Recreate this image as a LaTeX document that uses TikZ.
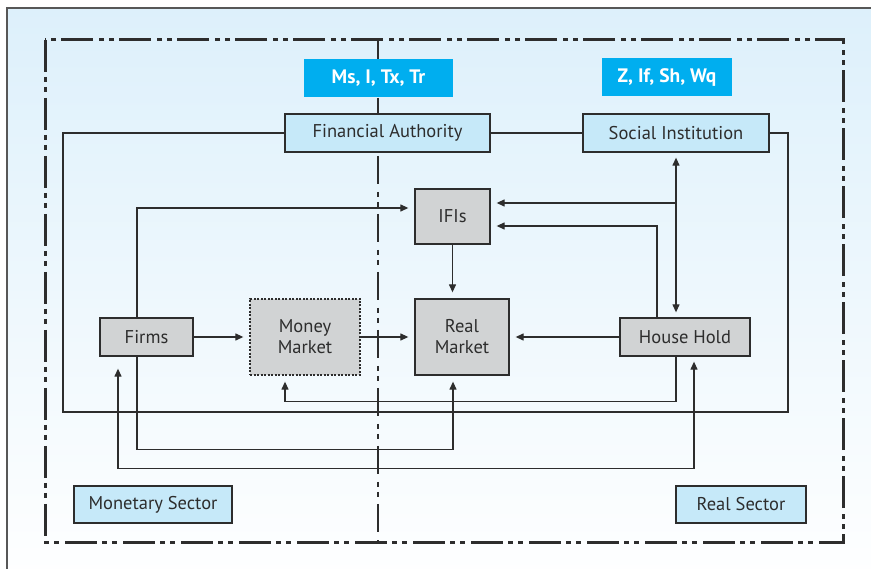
\documentclass[tikz,border=0pt]{standalone}
\usepackage{fontspec}
\setmainfont{PT Sans}
\usetikzlibrary{arrows.meta}
\usetikzlibrary{positioning}
\usetikzlibrary{calc}

\definecolor{PanelBlue}{RGB}{221,240,251}
\definecolor{BoxBlue}{RGB}{198,233,249}
\definecolor{HeadBlue}{RGB}{0,174,239}
\definecolor{BoxGray}{RGB}{209,211,212}
\definecolor{LineGray}{RGB}{45,45,45}

\tikzset{
    unit/.style = {draw = LineGray, line width = 1.3pt, fill = BoxGray, inner sep = 0pt,
                   text = LineGray, align = center, font = \fontsize{18.5}{21}\selectfont},
    authority/.style = {unit, fill = BoxBlue},
    header/.style = {fill = HeadBlue, text = white, inner sep = 0pt,
                     font = \fontsize{19.5}{21}\selectfont\bfseries},
    link/.style = {draw = LineGray, line width = 1.2pt},
    flow/.style = {link, -{Triangle[length = 8pt, width = 7pt]}, shorten > = 6pt},
    twoway/.style = {link, {Triangle[length = 8pt, width = 7pt]}-{Triangle[length = 8pt, width = 7pt]},
                     shorten > = 5pt, shorten < = 5pt},
}

\begin{document}
\begin{tikzpicture}[x = 1pt, y = -1pt]
                \useasboundingbox (0,0) rectangle (871,569);

                % Draw the panel and the sector frames:
                \shade [top color = PanelBlue, bottom color = white, draw = LineGray!80, line width = 1.3pt]
                    (7,8) rectangle (890,590);
                \draw [line width = 3pt, LineGray, dash pattern = on 32pt off 5pt on 5pt off 5pt on 5pt off 6pt]
                    (45,40) rectangle (843,542);
                \draw [line width = 1.3pt, LineGray, dash pattern = on 28pt off 8pt on 5pt off 5pt on 5pt off 7pt]
                    (378,40) -- (378,542);

                % Draw the headers and the institutions:
                \node [header, minimum width = 149pt, minimum height = 38pt] at (378.5,78) (MsBox) {Ms, I, Tx, Tr};
                \node [header, minimum width = 130pt, minimum height = 38pt] at (667,77)  (ZBox)  {Z, If, Sh, Wq};
                \node [authority, minimum width = 205pt, minimum height = 38pt] at (387.5,133) (FinAuth) {Financial Authority};
                \node [authority, minimum width = 186pt, minimum height = 38pt] at (676,133)   (SocInst) {Social Institution};

                % Draw the agents and the markets:
                \node [unit, minimum width = 75pt,  minimum height = 55pt] at (452.5,216.5) (IFIs) {IFIs};
                \node [unit, minimum width = 93pt,  minimum height = 38pt] at (146.5,337) (Firms) {Firms};
                \node [unit, dash pattern = on 2pt off 1.5pt, minimum width = 110pt, minimum height = 76pt] at (305,337) (MoneyMarket) {Money\\Market};
                \node [unit, minimum width = 94pt,  minimum height = 76pt] at (462,337) (RealMarket) {Real\\Market};
                \node [unit, minimum width = 130pt, minimum height = 38pt] at (685,337) (HouseHold) {House Hold};

                % Draw the sector labels:
                \node [authority, minimum width = 158pt, minimum height = 37pt] at (153,504.5) (MonSector) {Monetary Sector};
                \node [authority, minimum width = 130pt, minimum height = 37pt] at (741,504.5) (RealSector) {Real Sector};

                % Draw the loop round the two authorities:
                \coordinate (LoopL) at (63,412);
                \coordinate (LoopR) at (788,412);
                \draw [link] (FinAuth.west) -| (LoopL) -- (LoopR) |- (SocInst.east);
                \draw [link] (FinAuth.east) -- (SocInst.west);

                % Draw the flows into the IFIs:
                \draw [flow] ([xshift = -9.5pt]Firms.north) |- ([yshift = 8.5pt]IFIs.west);
                \coordinate (Branch) at (676,203);
                \draw [twoway] (SocInst.south) -- (SocInst.south |- HouseHold.north);
                \draw [flow] (Branch) -- (Branch -| IFIs.east);
                \draw [flow] ([xshift = -28pt]HouseHold.north) |- ([yshift = -9.5pt]IFIs.east);
                \draw [flow] (IFIs.south) -- (IFIs.south |- RealMarket.north);

                % Draw the flows between the markets:
                \draw [flow] (Firms.east) -- (MoneyMarket.west);
                \draw [flow] (MoneyMarket.east) -- (RealMarket.west);
                \draw [flow] (HouseHold.west) -- (RealMarket.east);

                % Draw the flows below the markets:
                \draw [flow] ([xshift = -9pt]HouseHold.south) -- ++(0,45) -| ([xshift = -20pt]MoneyMarket.south);
                \draw [flow] ([xshift = -9.5pt]Firms.south) -- ++(0,93) -| ([xshift = -9pt]RealMarket.south);
                \draw [twoway] ([xshift = -28.5pt]Firms.south) ++(0,7) -- ++(0,105) -| ([xshift = 9pt]HouseHold.south);
            \end{tikzpicture}
\end{document}
